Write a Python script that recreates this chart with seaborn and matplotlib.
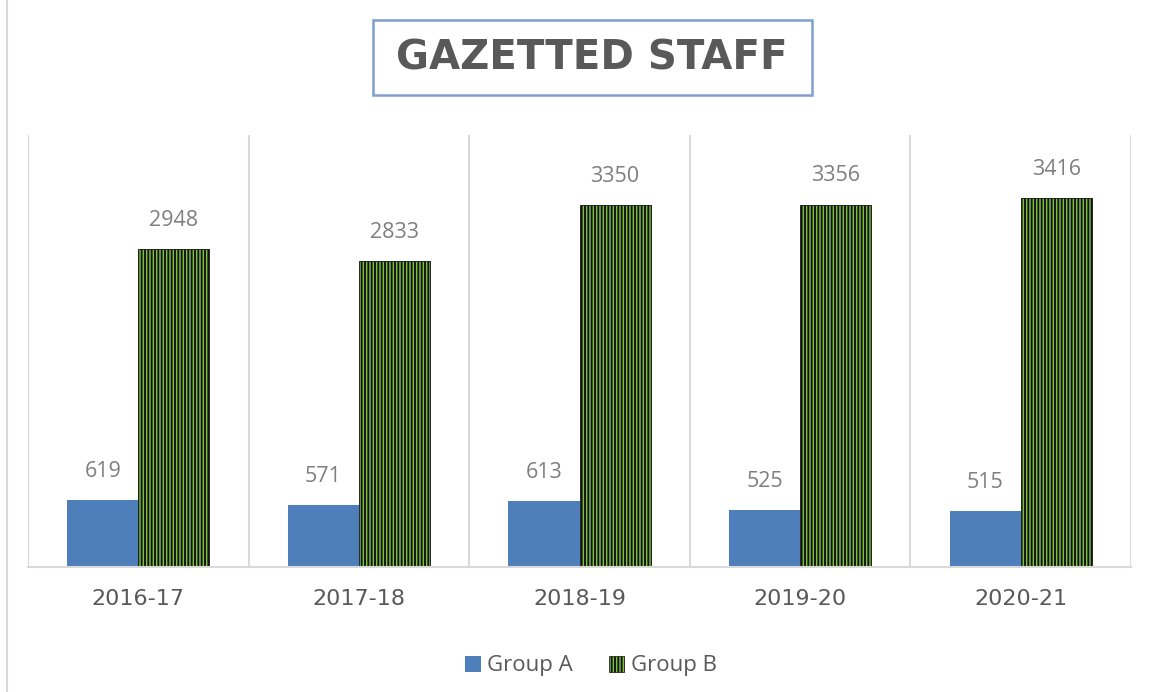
import matplotlib
matplotlib.use("Agg")
import matplotlib.pyplot as plt
import seaborn as sns
import pandas as pd
from matplotlib.lines import Line2D
from matplotlib.patches import Patch, Rectangle

years = ["2016-17", "2017-18", "2018-19", "2019-20", "2020-21"]
group_a = [619, 571, 613, 525, 515]
group_b = [2948, 2833, 3350, 3356, 3416]
series = ["Group A", "Group B"]

df = pd.DataFrame({
    "Year": years * 2,
    "Value": group_a + group_b,
    "Series": [series[0]] * len(years) + [series[1]] * len(years),
})

sns.set_theme(style="white")
plt.rcParams["font.family"] = ["Open Sans", "DejaVu Sans"]
plt.rcParams["hatch.linewidth"] = 1.35

blue = "#4E7FBB"
green = "#7CC043"
grey_txt = "#595959"
grid_c = "#d9d9d9"

fig = plt.figure(figsize=(11.7, 6.92), dpi=100)
ax = fig.add_axes([28 / 1170, 1 - 567 / 692, (1131 - 28) / 1170, (567 - 135) / 692])

sns.barplot(data=df, x="Year", y="Value", hue="Series", palette=[blue, green],
            width=0.645, gap=0, ax=ax, legend=False, saturation=1)

for i, cont in enumerate(ax.containers):
    for p in cont:
        if i == 1:
            p.set_hatch("|||||")
            p.set_edgecolor("#111111")
            p.set_linewidth(0.6)
        else:
            p.set_edgecolor("none")
    ax.bar_label(cont, padding=13, color="#7f7f7f", fontsize=15.5)

ax.set_xlim(-0.5, len(years) - 0.5)
ax.set_ylim(0, 4000)
ax.set_yticks([])
ax.set_xlabel("")
ax.set_ylabel("")
ax.set_xticks([x - 0.5 for x in range(len(years) + 1)], minor=True)
ax.grid(True, which="minor", axis="x", color=grid_c, linewidth=1.5)
ax.tick_params(axis="x", which="both", length=0, pad=16, colors=grey_txt)
for lbl in ax.get_xticklabels():
    lbl.set_fontfamily(["DejaVu Sans"])
    lbl.set_fontsize(16)
for s in ["top", "left", "right"]:
    ax.spines[s].set_visible(False)
ax.spines["bottom"].set_color(grid_c)
ax.spines["bottom"].set_linewidth(1.5)

# title box
fig.add_artist(Rectangle((373 / 1170, 1 - 95 / 692), (812 - 373) / 1170, 75 / 692,
                         transform=fig.transFigure, facecolor="white",
                         edgecolor="#7F9FCF", linewidth=1.8))
fig.text(592 / 1170, 1 - 58 / 692, "GAZETTED STAFF", ha="center", va="center",
         fontsize=29, fontweight="bold", color=grey_txt, family=["DejaVu Sans"])

fig.add_artist(Line2D([7 / 1170, 7 / 1170], [0, 1], color=grid_c, linewidth=1.5))

handles = [Patch(facecolor=blue, edgecolor="none", label=series[0]),
           Patch(facecolor=green, edgecolor="#111111", hatch="|||||", linewidth=0.5, label=series[1])]
fig.legend(handles=handles, loc="center", bbox_to_anchor=(591 / 1170, 1 - 666 / 692), ncol=2,
           frameon=False, fontsize=16, handlelength=0.7, handleheight=0.7,
           handletextpad=0.3, columnspacing=1.6, labelcolor=grey_txt)

fig.savefig("out.png", dpi=100, facecolor="white")
